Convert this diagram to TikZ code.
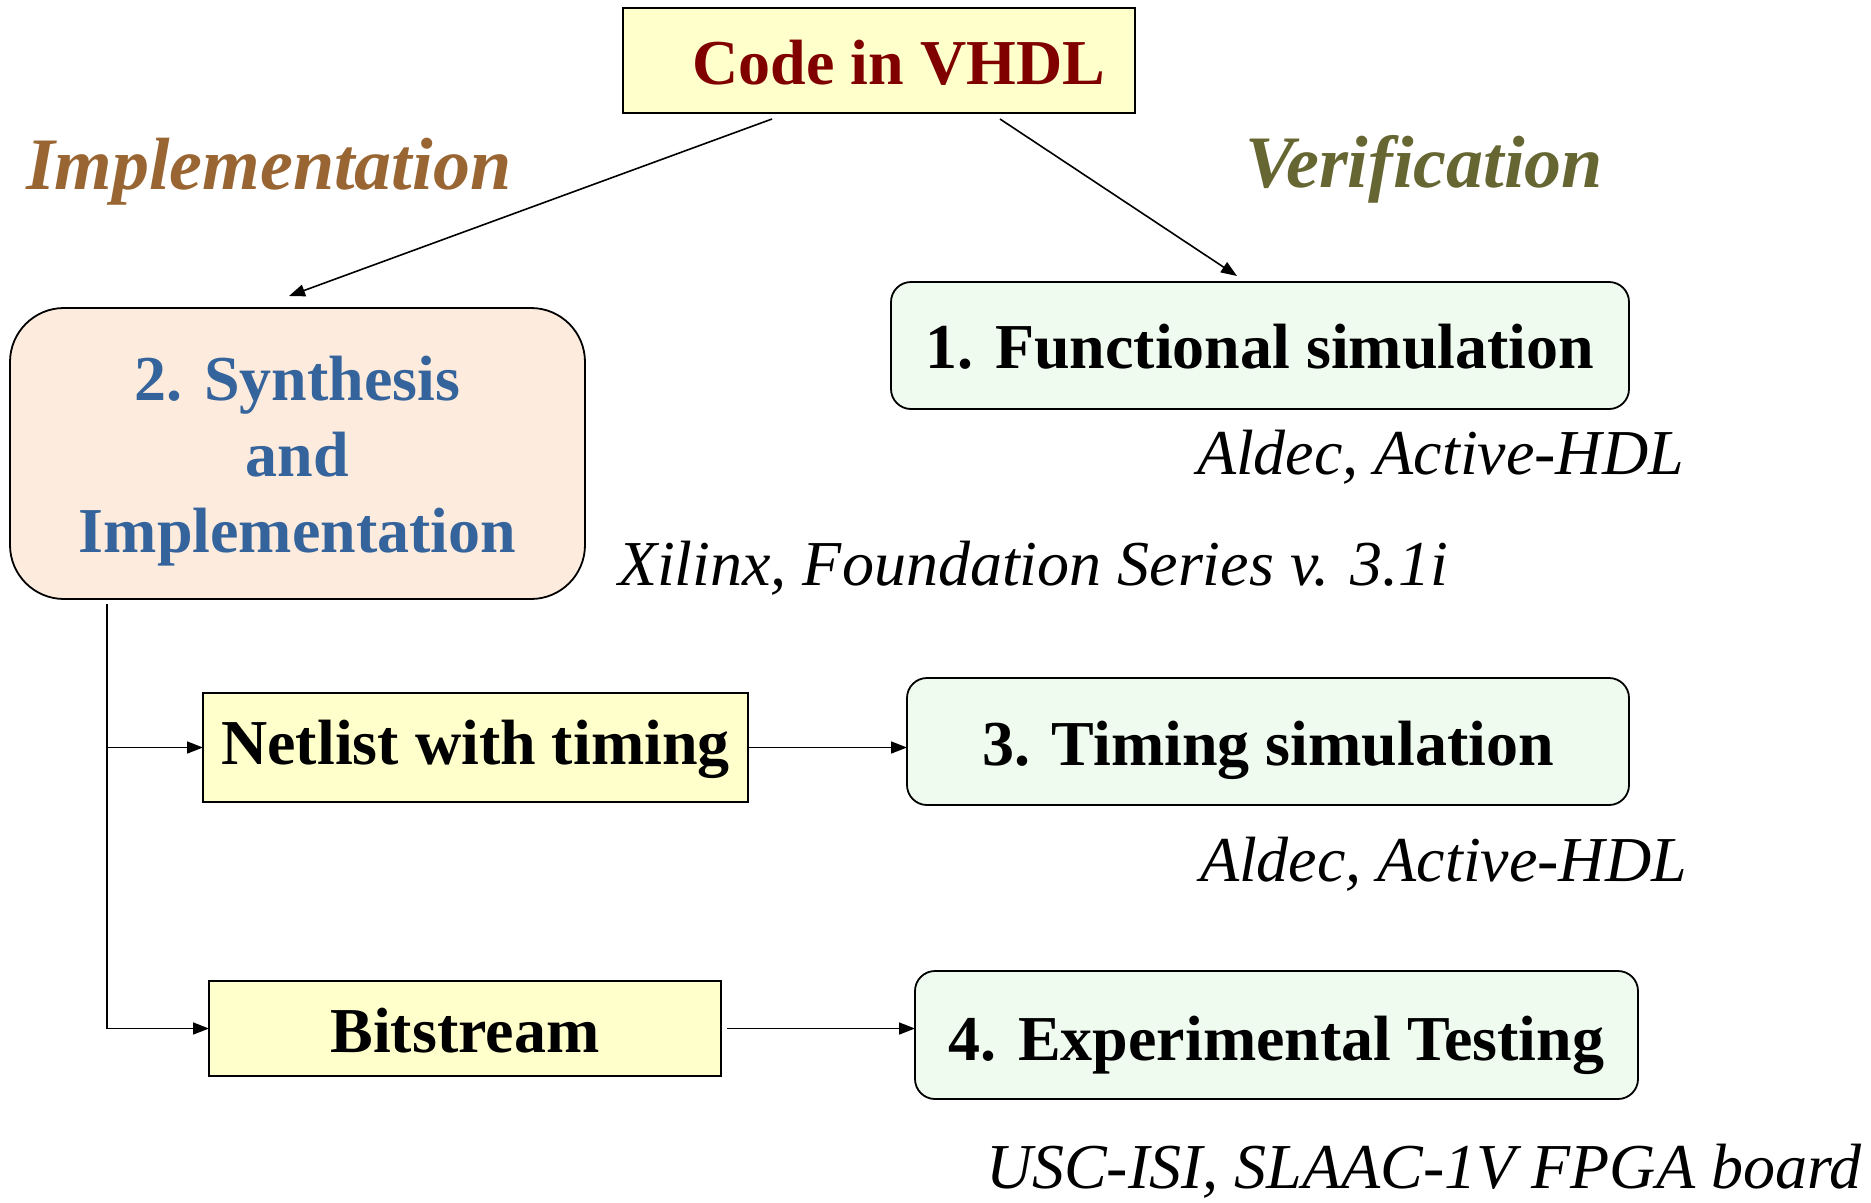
\documentclass[tikz,border=0pt]{standalone}
\usepackage{fontspec}
\setmainfont{Liberation Serif}
\usetikzlibrary{arrows.meta,calc}
\definecolor{darkred}{HTML}{800000}
\definecolor{yelfill}{HTML}{FFFFCC}
\definecolor{grnfill}{HTML}{F0FBF0}
\definecolor{synfill}{HTML}{FDEBDD}
\definecolor{synblue}{HTML}{34649B}
\definecolor{implbrown}{HTML}{996633}
\definecolor{verolive}{HTML}{666633}
\begin{document}
\begin{tikzpicture}[x=1pt,y=-1pt,
  every node/.style={inner sep=0pt, outer sep=0pt},
  boxbase/.style={draw=black, line width=1.8pt, font=\fontsize{64}{76}\selectfont\bfseries},
  yelbox/.style={boxbase, fill=yelfill, text depth=0pt},
  grnbox/.style={boxbase, fill=grnfill, rounded corners=20pt, text depth=0pt},
  note/.style={anchor=base west, font=\fontsize{64}{76}\selectfont\itshape},
  head/.style={anchor=base west, font=\fontsize{74}{80}\selectfont\bfseries\itshape},
  arr/.style={line width=1.6pt, -{Triangle[length=16pt,width=12pt]}}]
\useasboundingbox (0,0) rectangle (1871,1202);

\node[yelbox, minimum width=512pt, minimum height=105pt, text height=48pt, text=darkred] (code) at (879,60.5) {\hspace*{40pt}Code in VHDL};

\node[boxbase, fill=synfill, rounded corners=54pt, minimum width=575pt, minimum height=291pt, text=synblue, align=center] (synth) at (297.5,453.5) {\rule{0pt}{60pt}2. Synthesis\\and\\Implementation};

\node[grnbox, minimum width=738pt, minimum height=127pt, text height=46pt] (func) at (1260,345.5) {1. Functional simulation};
\node[grnbox, minimum width=722pt, minimum height=127pt, text height=47pt] (tim) at (1268,741.5) {3. Timing simulation};
\node[grnbox, minimum width=723pt, minimum height=128pt, text height=50pt] (exp) at (1276.5,1035) {4. Experimental Testing};

\node[yelbox, minimum width=545pt, minimum height=109pt, text height=33pt] (net) at (475.5,747.5) {Netlist with timing};
\node[yelbox, minimum width=512pt, minimum height=95pt, text height=47pt] (bit) at (465,1028.5) {Bitstream};

\node[head, text=implbrown] (himpl) at (26,189) {Implementation};
\node[head, text=verolive] (hver) at (1245,187) {Verification};

\node[note] (ald1) at (1197,474) {Aldec, Active-HDL};
\node[note] (xil) at (618,585) {Xilinx, Foundation Series v. 3.1i};
\node[note] (ald2) at (1200,881) {Aldec, Active-HDL};
\node[note] (usc) at (986,1188) {USC-ISI, SLAAC-1V FPGA board};

\draw[arr] ([shift={(149,6)}]code.south west) -- ([shift={(-8.5,-12)}]synth.north);
\draw[arr] ([shift={(377,6)}]code.south west) -- ([shift={(-23,-6)}]func.north);

\coordinate (branch) at ([shift={(97,5)}]synth.south west);
\draw[arr] (branch) |- (net.west);
\draw[arr] (branch) |- (bit.west);
\draw[arr] (net.east) -- (net.east -| tim.west);
\draw[arr] ([xshift=6pt]bit.east) -- (bit.east -| exp.west);
\end{tikzpicture}
\end{document}
